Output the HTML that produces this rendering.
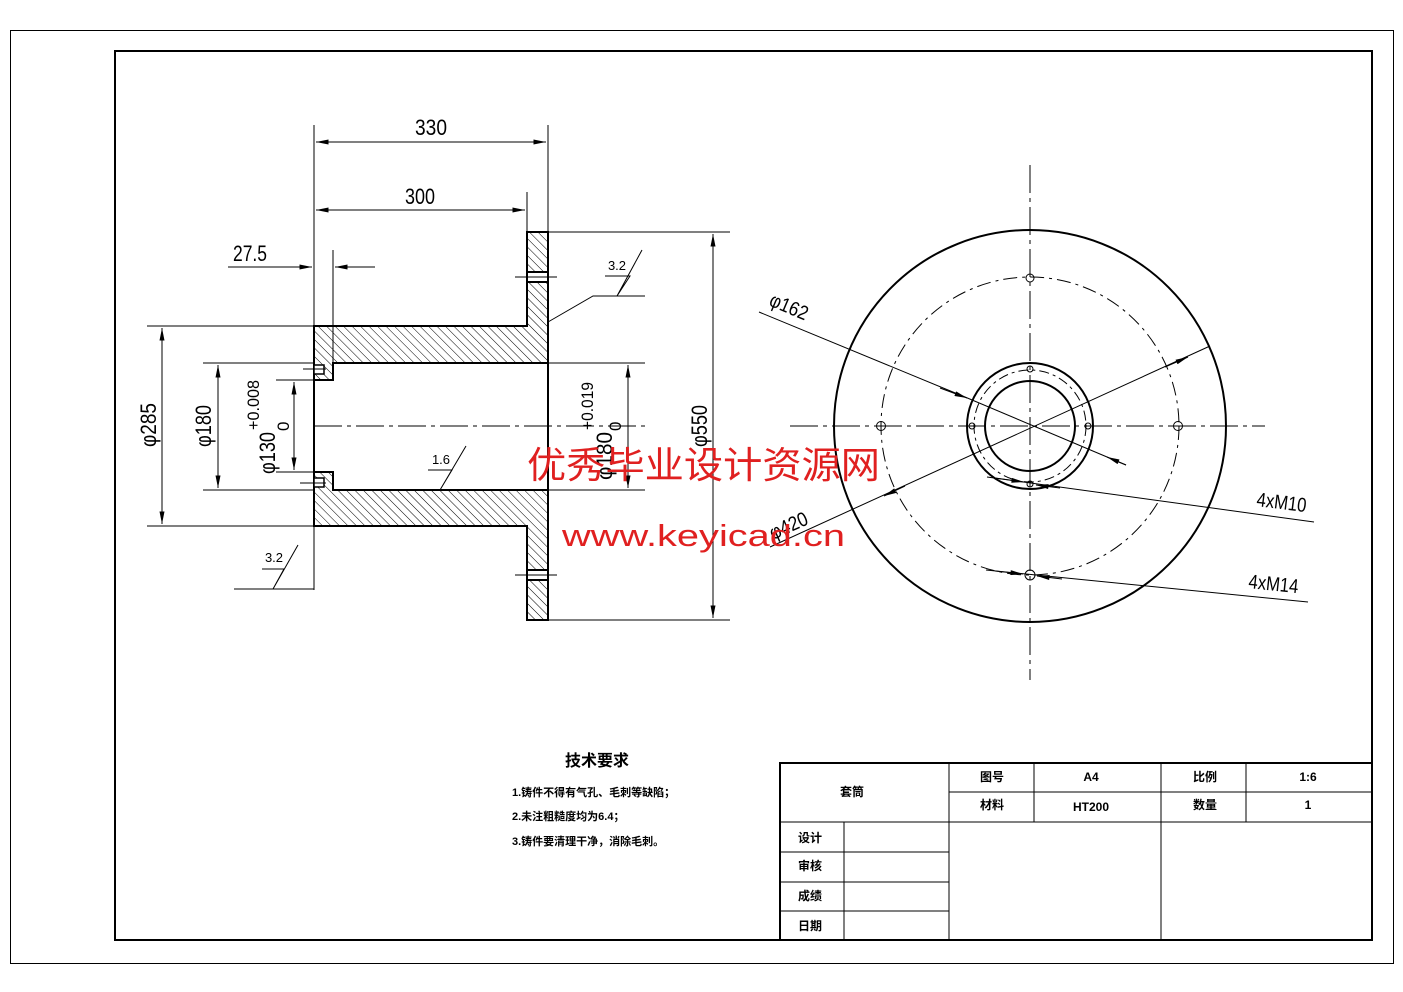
<!DOCTYPE html>
<html><head><meta charset="utf-8"><style>
html,body{margin:0;padding:0;background:#fff}
svg{display:block}
text{font-family:"Liberation Sans","Noto Sans CJK SC",sans-serif}
</style></head><body>
<svg width="1403" height="992" viewBox="0 0 1403 992" xmlns="http://www.w3.org/2000/svg">
<defs>
<pattern id="h" patternUnits="userSpaceOnUse" width="6" height="6" patternTransform="rotate(-45)">
<line x1="0" y1="0" x2="0" y2="6" stroke="#000" stroke-width="1"/>
</pattern>
<marker id="a" viewBox="0 0 10 4" refX="10" refY="2" markerWidth="14" markerHeight="5" markerUnits="userSpaceOnUse" orient="auto-start-reverse"><path d="M0,0 L10,2 L0,4z" fill="#000"/></marker>
</defs>
<rect x="10.5" y="30.5" width="1383" height="933" fill="none" stroke="#000" stroke-width="1"/>
<rect x="115" y="51" width="1257" height="889" fill="none" stroke="#000" stroke-width="2"/>

<g stroke="#000" fill="none" stroke-width="1">
<path d="M314,326 L527,326 L527,232 L548,232 L548,363 L333,363 L333,380 L314,380Z" fill="url(#h)" stroke-width="2"/>
<path d="M314,526 L527,526 L527,620 L548,620 L548,490 L333,490 L333,472 L314,472Z" fill="url(#h)" stroke-width="2"/>
<rect x="528" y="272" width="19" height="10" fill="#fff" stroke="none"/>
<rect x="528" y="570" width="19" height="10" fill="#fff" stroke="none"/>
<line x1="527" y1="272" x2="548" y2="272" stroke-width="2"/><line x1="527" y1="282" x2="548" y2="282" stroke-width="2"/>
<line x1="527" y1="570" x2="548" y2="570" stroke-width="2"/><line x1="527" y1="580" x2="548" y2="580" stroke-width="2"/>
<line x1="515" y1="277" x2="557" y2="277"/><line x1="515" y1="575" x2="557" y2="575"/>
<line x1="314" y1="380" x2="314" y2="472" stroke-width="2"/>
<rect x="314" y="365" width="10" height="9" stroke-width="1.5" fill="#fff"/>
<rect x="314" y="478" width="10" height="9" stroke-width="1.5" fill="#fff"/>
<line x1="303" y1="369" x2="326" y2="369"/><line x1="300" y1="483" x2="326" y2="483"/>
<line x1="548" y1="363" x2="548" y2="490" stroke-width="2"/>
<line x1="314" y1="426" x2="645" y2="426" stroke-dasharray="28,5,4,5"/>
<line x1="314" y1="125" x2="314" y2="326"/><line x1="548" y1="125" x2="548" y2="232"/>
<line x1="527" y1="192" x2="527" y2="232"/><line x1="333" y1="250" x2="333" y2="380"/>
<line x1="314" y1="526" x2="314" y2="590"/>
<line x1="316" y1="142" x2="546" y2="142" marker-start="url(#a)" marker-end="url(#a)"/>
<line x1="316" y1="210" x2="525" y2="210" marker-start="url(#a)" marker-end="url(#a)"/>
<line x1="228" y1="267" x2="312" y2="267" marker-end="url(#a)"/>
<line x1="375" y1="267" x2="335" y2="267" marker-end="url(#a)"/>
<line x1="147" y1="326" x2="314" y2="326"/><line x1="147" y1="526" x2="314" y2="526"/>
<line x1="162" y1="328" x2="162" y2="524" marker-start="url(#a)" marker-end="url(#a)"/>
<line x1="203" y1="363" x2="314" y2="363"/><line x1="203" y1="490" x2="314" y2="490"/>
<line x1="218" y1="365" x2="218" y2="488" marker-start="url(#a)" marker-end="url(#a)"/>
<line x1="276" y1="380" x2="314" y2="380"/><line x1="276" y1="472" x2="314" y2="472"/>
<line x1="294" y1="382" x2="294" y2="470" marker-start="url(#a)" marker-end="url(#a)"/>
<line x1="548" y1="232" x2="730" y2="232"/><line x1="548" y1="620" x2="730" y2="620"/>
<line x1="713" y1="234" x2="713" y2="618" marker-start="url(#a)" marker-end="url(#a)"/>
<line x1="548" y1="363" x2="645" y2="363"/><line x1="548" y1="490" x2="645" y2="490"/>
<line x1="628" y1="365" x2="628" y2="488" marker-start="url(#a)" marker-end="url(#a)"/>
<path d="M548,322 L593,296 L645,296 M605,276 L630,276 L617,296 L642,250"/>
<path d="M428,470 L452,470 L440,490 L466,446"/>
<path d="M234,589 L314,589 M262,569 L284,569 L273,589 L298,545"/>
<circle cx="1030" cy="426" r="196" stroke-width="2"/>
<circle cx="1030" cy="426" r="149" stroke-dasharray="14,5,3,5"/>
<circle cx="1030" cy="426" r="63" stroke-width="2"/>
<circle cx="1030" cy="426" r="45" stroke-width="2"/>
<circle cx="1030" cy="426" r="56" stroke-dasharray="10,4,3,4"/>
<line x1="1030" y1="165" x2="1030" y2="680" stroke-dasharray="28,5,4,5"/>
<line x1="790" y1="426" x2="1265" y2="426" stroke-dasharray="28,5,4,5"/>
<circle cx="1030" cy="278" r="4"/><circle cx="1030" cy="575" r="5"/>
<circle cx="881" cy="426" r="4.5"/><circle cx="1178" cy="426" r="4.5"/>
<circle cx="1030" cy="369" r="3"/><circle cx="1030" cy="484" r="3"/>
<circle cx="972" cy="426" r="3"/><circle cx="1088" cy="426" r="3"/>
<line x1="759" y1="312" x2="965" y2="397"/><line x1="965" y1="397" x2="1126" y2="465"/>
<line x1="940" y1="388" x2="967" y2="398" marker-end="url(#a)"/>
<line x1="1126" y1="465" x2="1107" y2="457" marker-end="url(#a)"/>
<line x1="770" y1="547" x2="1210" y2="346"/>
<line x1="905" y1="486" x2="884" y2="496" marker-end="url(#a)"/>
<line x1="1165" y1="367" x2="1188" y2="357" marker-end="url(#a)"/>
<line x1="987" y1="477" x2="1314" y2="522"/>
<line x1="995" y1="478" x2="1024" y2="482" marker-end="url(#a)"/>
<line x1="1060" y1="488" x2="1036" y2="485" marker-end="url(#a)"/>
<line x1="986" y1="570" x2="1308" y2="602"/>
<line x1="995" y1="571" x2="1023" y2="574" marker-end="url(#a)"/>
<line x1="1062" y1="579" x2="1037" y2="576" marker-end="url(#a)"/>
<rect x="780" y="763" width="592" height="177" stroke-width="2"/>
<line x1="949" y1="763" x2="949" y2="940"/>
<line x1="1034" y1="763" x2="1034" y2="822"/>
<line x1="1161" y1="763" x2="1161" y2="940"/>
<line x1="1246" y1="763" x2="1246" y2="822"/>
<line x1="949" y1="792" x2="1372" y2="792"/>
<line x1="780" y1="822" x2="1372" y2="822"/>
<line x1="780" y1="852" x2="949" y2="852"/>
<line x1="780" y1="882" x2="949" y2="882"/>
<line x1="780" y1="911" x2="949" y2="911"/>
<line x1="844" y1="822" x2="844" y2="940"/>
</g>

<g font-size="22" fill="#000">
<text x="415" y="135" textLength="32" lengthAdjust="spacingAndGlyphs">330</text>
<text x="405" y="204" textLength="30" lengthAdjust="spacingAndGlyphs">300</text>
<text x="233" y="261" textLength="34" lengthAdjust="spacingAndGlyphs">27.5</text>
<text transform="translate(156,447) rotate(-90)" textLength="44" lengthAdjust="spacingAndGlyphs">φ285</text>
<text transform="translate(211,447) rotate(-90)" textLength="42" lengthAdjust="spacingAndGlyphs">φ180</text>
<text transform="translate(275,474) rotate(-90)" textLength="42" lengthAdjust="spacingAndGlyphs">φ130</text>
<text transform="translate(259,430) rotate(-90)" font-size="17" textLength="50" lengthAdjust="spacingAndGlyphs">+0.008</text>
<text transform="translate(289,431) rotate(-90)" font-size="17">0</text>
<text transform="translate(707,447) rotate(-90)" textLength="42" lengthAdjust="spacingAndGlyphs">φ550</text>
<text transform="translate(612,480) rotate(-90)" textLength="48" lengthAdjust="spacingAndGlyphs">φ180</text>
<text transform="translate(593,430) rotate(-90)" font-size="17" textLength="48" lengthAdjust="spacingAndGlyphs">+0.019</text>
<text transform="translate(621,431) rotate(-90)" font-size="17">0</text>
<text x="617" y="270" font-size="13" text-anchor="middle">3.2</text>
<text x="441" y="464" font-size="13" text-anchor="middle">1.6</text>
<text x="274" y="562" font-size="13" text-anchor="middle">3.2</text>
<text transform="translate(768,305) rotate(23)" font-size="20" textLength="40" lengthAdjust="spacingAndGlyphs">φ162</text>
<text transform="translate(773,540) rotate(-24)" font-size="20" textLength="40" lengthAdjust="spacingAndGlyphs">φ420</text>
<text transform="translate(1256,506) rotate(7)" font-size="20" textLength="50" lengthAdjust="spacingAndGlyphs">4xM10</text>
<text transform="translate(1248,588) rotate(6)" font-size="20" textLength="50" lengthAdjust="spacingAndGlyphs">4xM14</text>
</g>

<g font-family="Liberation Serif,Noto Serif CJK SC,serif" font-weight="bold" fill="#000">
<text x="597" y="766" font-size="16" text-anchor="middle">技术要求</text>
<text x="512" y="796" font-size="11">1.铸件不得有气孔、毛刺等缺陷；</text>
<text x="512" y="820" font-size="11">2.未注粗糙度均为6.4；</text>
<text x="512" y="845" font-size="11">3.铸件要清理干净，消除毛刺。</text>
<g font-size="12" text-anchor="middle">
<text x="852" y="796">套筒</text>
<text x="992" y="781">图号</text><text x="1091" y="781">A4</text>
<text x="1205" y="781">比例</text><text x="1308" y="781">1:6</text>
<text x="992" y="809">材料</text><text x="1091" y="811">HT200</text>
<text x="1205" y="809">数量</text><text x="1308" y="809">1</text>
<text x="810" y="842">设计</text><text x="810" y="870">审核</text>
<text x="810" y="900">成绩</text><text x="810" y="930">日期</text>
</g>
</g>

<text x="527" y="478" font-size="37" fill="#e02020" textLength="353" lengthAdjust="spacingAndGlyphs" font-family="Noto Serif CJK SC,serif">优秀毕业设计资源网</text>
<text x="562" y="546" font-size="31" fill="#e02020" textLength="283" lengthAdjust="spacingAndGlyphs" font-family="Liberation Serif,serif">www.keyicad.cn</text>
</svg>
</body></html>
